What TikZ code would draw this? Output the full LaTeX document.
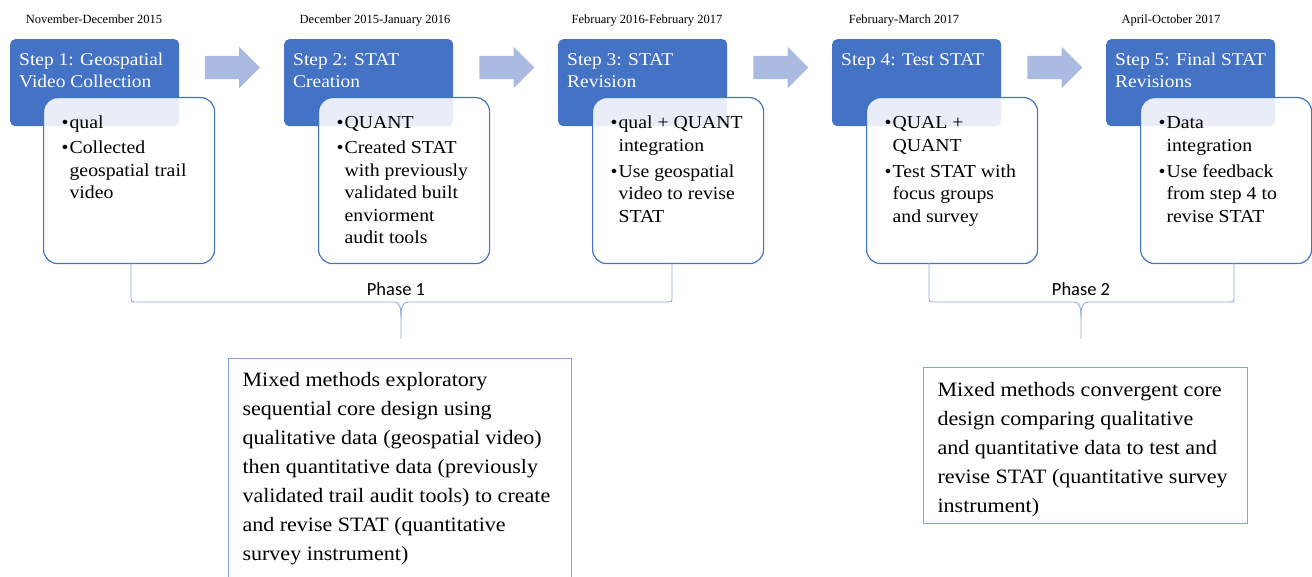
\documentclass[tikz,border=0pt]{standalone}
\usepackage{fontspec}
\usepackage{xcolor}
\usepackage{tikz}
\usetikzlibrary{arrows.meta,positioning,calc,shapes.arrows}

\newfontfamily\palfont[FakeStretch=1.08]{Liberation Serif}
\newfontfamily\datefont{Liberation Serif}
\newfontfamily\phasefont{Carlito}

\definecolor{stepblue}{RGB}{68,114,196}
\definecolor{arrowblue}{RGB}{171,186,224}
\definecolor{braceblue}{RGB}{143,170,220}
\definecolor{noteblue}{RGB}{125,165,222}

% bullet item, lines after the first hang under the text
\newcommand{\bitem}[1]{\par\noindent\makebox[8pt][l]{\textbullet}\parbox[t]{132pt}{\raggedright\strut#1\strut}}

\tikzset{
	textblock/.style 2 args={execute at begin node={\begin{minipage}[t][#1][t]{#2}\raggedright\strut},
		execute at end node={\end{minipage}}},
	stepbox/.style={fill=stepblue, text=white, rounded corners=5pt, anchor=north west,
		inner xsep=9pt, inner ysep=10.6pt, font=\palfont\fontsize{18}{22}\selectfont,
		textblock={65.8pt}{151pt}},
	detailbox/.style={draw=stepblue, line width=1.2pt, fill=white, fill opacity=0.88, text opacity=1,
		rounded corners=14pt, anchor=north west, inner xsep=13pt, inner ysep=15.25pt,
		font=\palfont\fontsize{18.3}{22.5}\selectfont,
		execute at begin node={\begin{minipage}[t][135.5pt][t]{145pt}\leftskip=5pt\parskip=2.5pt},
		execute at end node={\end{minipage}}},
	flowarrow/.style={single arrow, fill=arrowblue, draw=none, inner xsep=0pt, inner ysep=11.5pt,
		minimum height=55pt, single arrow head extend=9pt},
	notebox/.style={draw=noteblue, line width=1.1pt, anchor=north west, inner xsep=14pt,
		font=\palfont\fontsize{20.4}{29}\selectfont},
	datelabel/.style={anchor=base, font=\datefont\fontsize{12.5}{14}\selectfont},
	phaselabel/.style={anchor=base, font=\phasefont\fontsize{18.5}{20}\selectfont},
	bracestyle/.style={draw=braceblue, line width=0.9pt}
}

\begin{document}
\begin{tikzpicture}[x=1pt,y=-1pt]
	\useasboundingbox (0,0) rectangle (1312,577);
	
	% dates
	\node[datelabel] (d1) at (94,24) {November-December 2015};
	\node[datelabel] (d2) at (375,24) {December 2015-January 2016};
	\node[datelabel] (d3) at (647,24) {February 2016-February 2017};
	\node[datelabel] (d4) at (904,24) {February-March 2017};
	\node[datelabel] (d5) at (1171,24) {April-October 2017};
	
	% step headers
	\node[stepbox] (s1) at (10,39) {Step 1: Geospatial\\Video Collection};
	\node[stepbox] (s2) at (284,39) {Step 2: STAT\\Creation};
	\node[stepbox] (s3) at (558,39) {Step 3: STAT\\Revision};
	\node[stepbox] (s4) at (832,39) {Step 4: Test STAT};
	\node[stepbox] (s5) at (1106,39) {Step 5: Final STAT\\Revisions};
	
	% step details
	\node[detailbox] (w1) at (43,97) {\bitem{qual}
		\bitem{Collected\\geospatial trail\\video}};
	\node[detailbox] (w2) at (318,97) {\bitem{QUANT}
		\bitem{Created STAT\\with previously\\validated built\\enviorment\\audit tools}};
	\node[detailbox] (w3) at (592,97) {\bitem{qual + QUANT\\integration}
		\bitem{Use geospatial\\video to revise\\STAT}};
	\node[detailbox] (w4) at (866,97) {\bitem{QUAL +\\QUANT}
		\bitem{Test STAT with\\focus groups\\and survey}};
	\node[detailbox] (w5) at (1140,97) {\bitem{Data\\integration}
		\bitem{Use feedback\\from step 4 to\\revise STAT}};
	
	% arrows
	\node[flowarrow] (a1) at (226.5,67.5) {};
	\node[flowarrow] (a2) at (501,67.5) {};
	\node[flowarrow] (a3) at (775,67.5) {};
	\node[flowarrow] (a4) at (1049,67.5) {};
	
	% Phase 1 brace
	\coordinate (p1l) at (131,263);
	\coordinate (p1r) at (672,263);
	\coordinate (p1t) at (401,339);
	\draw[bracestyle] (p1l) -- (131,297) .. controls (131,302) .. (136,302) -- (394,302)
		.. controls (400,302) and (401,308) .. (401,318) -- (p1t);
	\draw[bracestyle] (p1r) -- (672,297) .. controls (672,302) .. (667,302) -- (408,302)
		.. controls (402,302) and (401,308) .. (401,318);
	\node[phaselabel] (ph1) at (396,296) {Phase 1};
	
	% Phase 2 brace
	\coordinate (p2l) at (929,263);
	\coordinate (p2r) at (1234,263);
	\coordinate (p2t) at (1081,339);
	\draw[bracestyle] (p2l) -- (929,297) .. controls (929,302) .. (934,302) -- (1074,302)
		.. controls (1080,302) and (1081,308) .. (1081,318) -- (p2t);
	\draw[bracestyle] (p2r) -- (1234,297) .. controls (1234,302) .. (1229,302) -- (1088,302)
		.. controls (1082,302) and (1081,308) .. (1081,318);
	\node[phaselabel] (ph2) at (1081,296) {Phase 2};
	
	% design notes
	\node[notebox, inner ysep=7.7pt, textblock={224.6pt}{315pt}] (n1) at (228,358)
		{Mixed methods exploratory\\sequential core design using\\qualitative data (geospatial video)\\then quantitative data (previously\\validated trail audit tools) to create\\and revise STAT (quantitative\\survey instrument)};
	\node[notebox, inner ysep=8.7pt, textblock={138.6pt}{296pt}] (n2) at (923,367)
		{Mixed methods convergent core\\design comparing qualitative\\and quantitative data to test and\\revise STAT (quantitative survey\\instrument)};
\end{tikzpicture}
\end{document}
